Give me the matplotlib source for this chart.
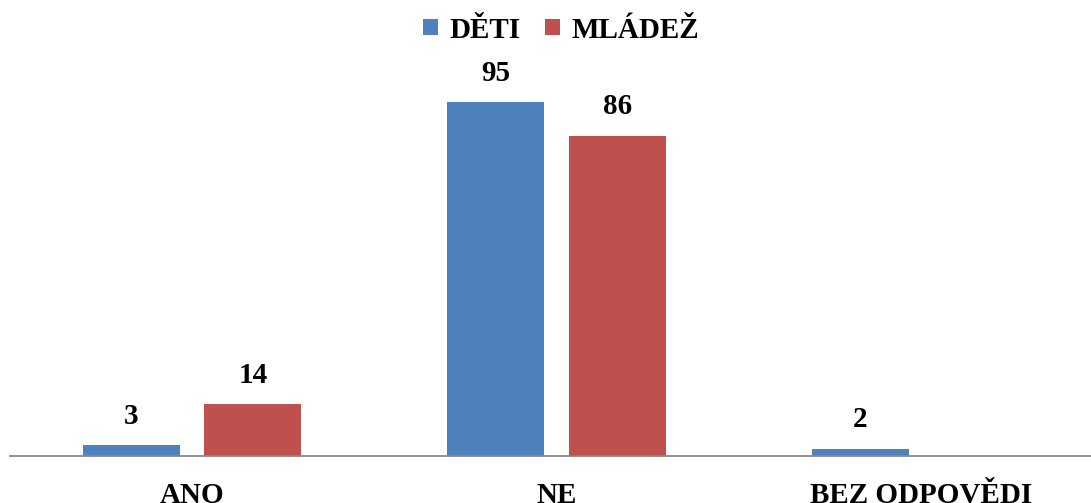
import matplotlib
matplotlib.use("Agg")
import matplotlib.pyplot as plt
import numpy as np

categories = ["ANO", "NE", "BEZ ODPOVĚDI"]
series_names = ["DĚTI", "MLÁDEŽ"]
deti = [3, 95, 2]
mladez = [14, 86, 0]

colors = ["#4F81BD", "#C0504D"]

plt.rcParams["font.family"] = ["Liberation Serif", "DejaVu Serif"]
plt.rcParams["font.weight"] = "bold"

fig = plt.figure(figsize=(10.91, 5.03), dpi=100)
ax = fig.add_axes([10 / 1091, 1 - 456 / 503, 1 - 10 / 1091, 372.6 / 503])

x = np.arange(len(categories))
width = 0.266
offset = 0.167

for vals, off, col, name in zip([deti, mladez], [-offset, offset], colors, series_names):
    bars = ax.bar(x + off, vals, width, color=col, label=name, zorder=2)
    for b, v in zip(bars, vals):
        if v:
            ax.annotate(str(v), (b.get_x() + b.get_width() / 2, v),
                        xytext=(0, 11), textcoords="offset points",
                        ha="center", va="bottom", fontsize=21,
                        fontweight="bold")

ax.set_xlim(-0.4993, 2.466)
ax.set_ylim(0, 100)
ax.set_yticks([])
ax.set_xticks(x)
ax.set_xticklabels(categories, fontsize=21, fontweight="bold")
ax.tick_params(axis="x", length=0, pad=19)
for s in ["top", "right", "left"]:
    ax.spines[s].set_visible(False)
ax.spines["bottom"].set_color("#888888")
ax.spines["bottom"].set_linewidth(1.3)
ax.patch.set_alpha(0)

fig.legend(loc="center", bbox_to_anchor=(561 / 1091, 1 - 30 / 503), ncol=2,
           frameon=False, fontsize=21, handlelength=0.5, handleheight=0.5,
           handletextpad=0.4, columnspacing=0.85, borderpad=0)

fig.savefig("out.png", dpi=100)
